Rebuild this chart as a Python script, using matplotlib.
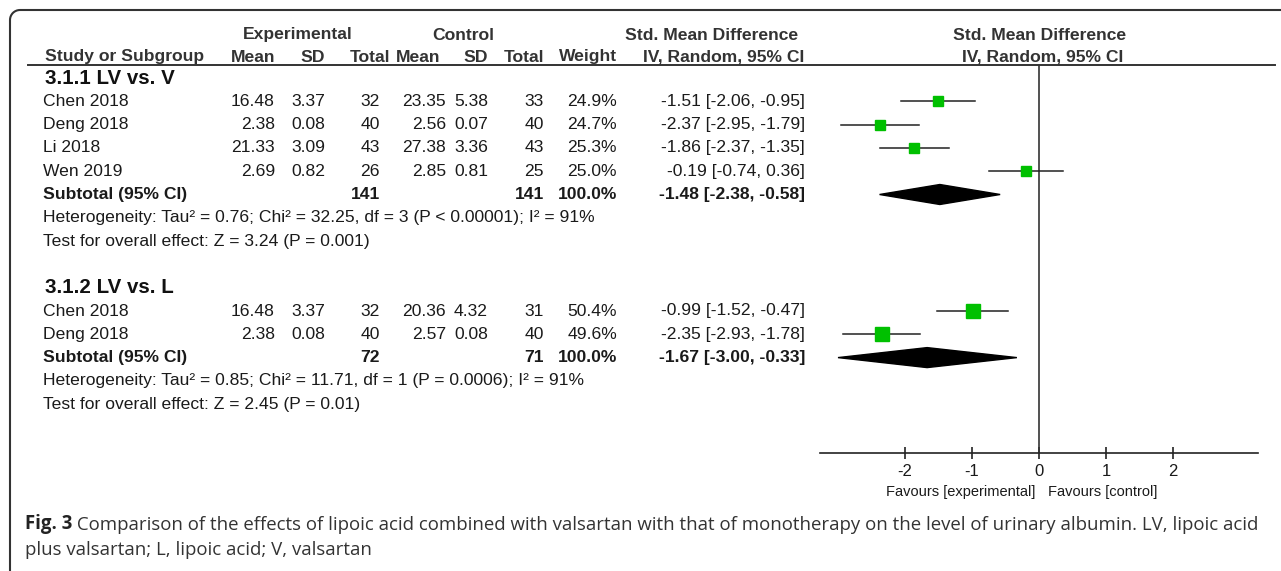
import matplotlib
matplotlib.use("Agg")
import matplotlib.pyplot as plt
from matplotlib.patches import Polygon, Arc

# ---- data ----
group_titles = ["3.1.1 LV vs. V", "3.1.2 LV vs. L"]

studies_1 = ["Chen 2018", "Deng 2018", "Li 2018", "Wen 2019"]
exp_mean_1 = [16.48, 2.38, 21.33, 2.69]
exp_sd_1 = [3.37, 0.08, 3.09, 0.82]
exp_n_1 = [32, 40, 43, 26]
ctl_mean_1 = [23.35, 2.56, 27.38, 2.85]
ctl_sd_1 = [5.38, 0.07, 3.36, 0.81]
ctl_n_1 = [33, 40, 43, 25]
weight_1 = [24.9, 24.7, 25.3, 25.0]
smd_1 = [-1.51, -2.37, -1.86, -0.19]
lo_1 = [-2.06, -2.95, -2.37, -0.74]
hi_1 = [-0.95, -1.79, -1.35, 0.36]
subtotal_1 = {"exp_n": 141, "ctl_n": 141, "smd": -1.48, "lo": -2.38, "hi": -0.58}
het_1 = "Heterogeneity: Tau\u00b2 = 0.76; Chi\u00b2 = 32.25, df = 3 (P < 0.00001); I\u00b2 = 91%"
test_1 = "Test for overall effect: Z = 3.24 (P = 0.001)"

studies_2 = ["Chen 2018", "Deng 2018"]
exp_mean_2 = [16.48, 2.38]
exp_sd_2 = [3.37, 0.08]
exp_n_2 = [32, 40]
ctl_mean_2 = [20.36, 2.57]
ctl_sd_2 = [4.32, 0.08]
ctl_n_2 = [31, 40]
weight_2 = [50.4, 49.6]
smd_2 = [-0.99, -2.35]
lo_2 = [-1.52, -2.93]
hi_2 = [-0.47, -1.78]
subtotal_2 = {"exp_n": 72, "ctl_n": 71, "smd": -1.67, "lo": -3.00, "hi": -0.33}
het_2 = "Heterogeneity: Tau\u00b2 = 0.85; Chi\u00b2 = 11.71, df = 1 (P = 0.0006); I\u00b2 = 91%"
test_2 = "Test for overall effect: Z = 2.45 (P = 0.01)"

xticks = [-2, -1, 0, 1, 2]
caption_bold = "Fig. 3"
caption_line1 = (" Comparison of the effects of lipoic acid combined with valsartan with that of "
                 "monotherapy on the level of urinary albumin. LV, lipoic acid")
caption_line2 = "plus valsartan; L, lipoic acid; V, valsartan"

# ---- layout (pixels) ----
W, H = 1281, 571
FONT = "Liberation Sans"
FS = 12.6
TXT = "#1a1a1a"
GREEN = "#00c000"


def row_y(i):
    return 78 + 23.3 * i


# right edges of numeric columns
col_x = {"exp_mean": 275, "exp_sd": 325, "exp_n": 380, "ctl_mean": 446,
         "ctl_sd": 488, "ctl_n": 544, "weight": 617, "ci": 805}

fig = plt.figure(figsize=(W / 100, H / 100), dpi=100)
lay = fig.add_axes([0, 0, 1, 1])
lay.set_xlim(0, W)
lay.set_ylim(H, 0)
lay.axis("off")

# forest axes, zero at x=1039, 67 px per unit
x0_px, unit_px = 1039, 67
ax_l, ax_r, ax_t, ax_b = 820, 1258, 65, 453
ax = fig.add_axes([ax_l / W, 1 - ax_b / H, (ax_r - ax_l) / W, (ax_b - ax_t) / H])
ax.set_xlim((ax_l - x0_px) / unit_px, (ax_r - x0_px) / unit_px)
ax.set_ylim(ax_b, ax_t)
ax.patch.set_alpha(0)
for s in ["top", "right", "left"]:
    ax.spines[s].set_visible(False)
ax.spines["bottom"].set_color("#222222")
ax.spines["bottom"].set_linewidth(1.2)
ax.set_yticks([])
ax.set_xticks(xticks)
ax.set_xticklabels([str(t) for t in xticks], fontfamily=FONT, fontsize=12, color=TXT)
ax.tick_params(axis="x", direction="inout", length=8, width=1.2, color="#222222", pad=4)
ax.axvline(0, color="#333333", lw=1.2)

# border (open box: top + left with rounded corner)
lay.plot([20, W], [10, 10], color="#333333", lw=1.5, solid_capstyle="butt")
lay.plot([10, 10], [20, H], color="#333333", lw=1.5, solid_capstyle="butt")
lay.add_patch(Arc((20, 20), 20, 20, theta1=180, theta2=270, color="#333333", lw=1.5))


def txt(x, y, s, ha="right", bold=False, size=FS, color=TXT, family=FONT):
    lay.text(x, y, s, ha=ha, va="center", fontsize=size, color=color, family=family,
             fontweight="bold" if bold else "normal")


# headers
HC = "#333333"
txt(298, 35, "Experimental", ha="center", bold=True, color=HC)
txt(463, 35, "Control", ha="center", bold=True, color=HC)
txt(712, 35, "Std. Mean Difference", ha="center", bold=True, color=HC)
txt(1040, 35, "Std. Mean Difference", ha="center", bold=True, color=HC)
hy = 57
txt(45, hy, "Study or Subgroup", ha="left", bold=True, color=HC)
txt(275, hy, "Mean", bold=True, color=HC)
txt(325, hy, "SD", bold=True, color=HC)
txt(390, hy, "Total", bold=True, color=HC)
txt(396, hy, "Mean", ha="left", bold=True, color=HC)
txt(488, hy, "SD", bold=True, color=HC)
txt(544, hy, "Total", bold=True, color=HC)
txt(617, hy, "Weight", bold=True, color=HC)
txt(724, hy, "IV, Random, 95% CI", ha="center", bold=True, color=HC)
txt(1043, hy, "IV, Random, 95% CI", ha="center", bold=True, color=HC)
lay.plot([28, 1275], [65, 65], color="#333333", lw=1.4)

groups = [
    (group_titles[0], studies_1, exp_mean_1, exp_sd_1, exp_n_1, ctl_mean_1, ctl_sd_1,
     ctl_n_1, weight_1, smd_1, lo_1, hi_1, subtotal_1, het_1, test_1),
    (group_titles[1], studies_2, exp_mean_2, exp_sd_2, exp_n_2, ctl_mean_2, ctl_sd_2,
     ctl_n_2, weight_2, smd_2, lo_2, hi_2, subtotal_2, het_2, test_2),
]

r = 0
for (title, studies, em, es, en, cm, cs, cn, wt, smd, lo, hi, sub, het, test) in groups:
    txt(45, row_y(r), title, ha="left", bold=True, size=14.8, color="#111111")
    r += 1
    for i, name in enumerate(studies):
        y = row_y(r)
        txt(43, y, name, ha="left")
        txt(col_x["exp_mean"], y, f"{em[i]:.2f}")
        txt(col_x["exp_sd"], y, f"{es[i]:.2f}")
        txt(col_x["exp_n"], y, f"{en[i]}")
        txt(col_x["ctl_mean"], y, f"{cm[i]:.2f}")
        txt(col_x["ctl_sd"], y, f"{cs[i]:.2f}")
        txt(col_x["ctl_n"], y, f"{cn[i]}")
        txt(col_x["weight"], y, f"{wt[i]:.1f}%")
        txt(col_x["ci"], y, f"{smd[i]:.2f} [{lo[i]:.2f}, {hi[i]:.2f}]")
        ax.plot([lo[i], hi[i]], [y, y], color="#222222", lw=1.1, zorder=2)
        ax.plot([smd[i]], [y], marker="s", ms=3.5 + 0.135 * wt[i], color=GREEN,
                mec=GREEN, zorder=3)
        r += 1
    y = row_y(r)
    txt(43, y, "Subtotal (95% CI)", ha="left", bold=True)
    txt(col_x["exp_n"], y, f"{sub['exp_n']}", bold=True)
    txt(col_x["ctl_n"], y, f"{sub['ctl_n']}", bold=True)
    txt(col_x["weight"], y, "100.0%", bold=True)
    txt(col_x["ci"], y, f"{sub['smd']:.2f} [{sub['lo']:.2f}, {sub['hi']:.2f}]", bold=True)
    ax.add_patch(Polygon([(sub["lo"], y), (sub["smd"], y - 10), (sub["hi"], y),
                          (sub["smd"], y + 10)], closed=True, color="black", zorder=3))
    r += 1
    txt(43, row_y(r), het, ha="left")
    r += 1
    txt(43, row_y(r), test, ha="left")
    r += 2

# favours labels
txt(1035, 492, "Favours [experimental]", ha="right", size=10.5)
txt(1048, 492, "Favours [control]", ha="left", size=10.5)

# caption
CAP = "Open Sans"
CFS = 13.4
bold_t = lay.text(25, 524, caption_bold, ha="left", va="center", fontsize=CFS,
                  family=CAP, fontweight="bold", color="#222222")
lay.annotate(caption_line1, xy=(1, 0), xycoords=bold_t, ha="left", va="bottom",
             fontsize=CFS, family=CAP, color="#333333")
lay.text(25, 550, caption_line2, ha="left", va="center", fontsize=CFS,
         family=CAP, color="#333333")

fig.savefig("out.png", dpi=100)
